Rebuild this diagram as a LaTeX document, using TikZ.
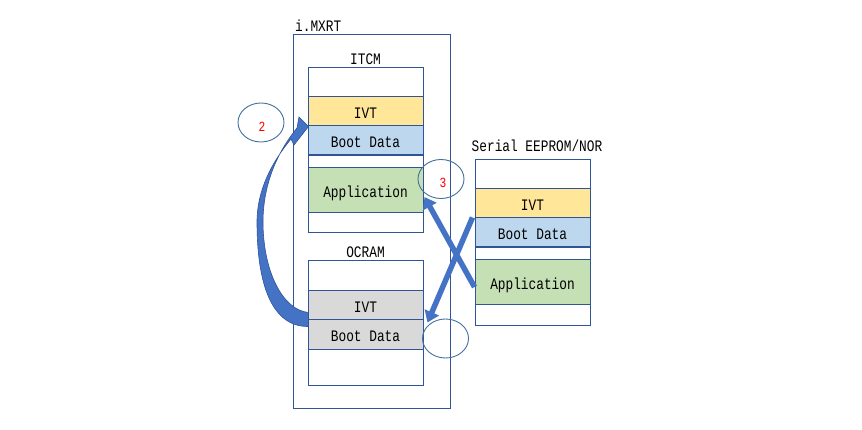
\documentclass[tikz,border=0pt]{standalone}
\usepackage{fontspec}
\setmainfont{Liberation Mono}[FakeStretch=0.8]
\usetikzlibrary{arrows.meta,calc,shapes.geometric}
\definecolor{frame}{HTML}{2F5597}
\definecolor{ivtyellow}{HTML}{FFE699}
\definecolor{bootblue}{HTML}{BDD7EE}
\definecolor{appgreen}{HTML}{C5E0B4}
\definecolor{ramgrey}{HTML}{D9D9D9}
\definecolor{arrowblue}{HTML}{4472C4}
\definecolor{ringblue}{HTML}{41719C}
\tikzset{
  cell/.style={draw=frame, line width=1pt, minimum width=115pt, inner sep=0pt,
    text height=14pt, text depth=0pt,
    font=\fontsize{16}{18}\selectfont},
  caption/.style={inner sep=0pt, font=\fontsize{16}{18}\selectfont},
  ring/.style={ellipse, draw=ringblue, line width=0.9pt, minimum width=46pt,
    minimum height=39pt, inner sep=0pt},
  stepno/.style={inner sep=0pt, text=red, font=\fontsize{14}{14}\selectfont},
  blockarrow/.style={draw=arrowblue, line width=5.5pt,
    -{Triangle[length=11pt,width=15pt]}},
}
\begin{document}
\begin{tikzpicture}[x=1pt,y=-1pt]
\useasboundingbox (0,0) rectangle (862,430);
\fill[white] (0,0) rectangle (862,430);

% i.MXRT chip outline
\node[draw=frame, line width=1pt, minimum width=157pt, minimum height=373pt,
  inner sep=0pt] (chip) at (371.5,221.5) {};
\node[caption, anchor=base west] (chiplabel) at (295,32) {i.MXRT};

% ITCM
\node[caption, anchor=base] (itcmlabel) at (365.5,65) {ITCM};
\node[cell, minimum height=29pt] (itop) at (365.5,82.5) {};
\node[cell, minimum height=29pt, fill=ivtyellow] (iivt) at (365.5,111.5) {IVT};
\node[cell, minimum height=30pt, fill=bootblue] (iboot) at (365.5,141) {Boot Data};
\node[cell, minimum height=12pt] (igap) at (365.5,162) {};
\node[cell, minimum height=45pt, fill=appgreen] (iapp) at (365.5,190.5) {Application};
\node[cell, minimum height=20pt] (ibot) at (365.5,223) {};

% OCRAM
\node[caption, anchor=base] (ocramlabel) at (365.5,258) {OCRAM};
\node[cell, minimum height=30pt] (otop) at (365.5,276) {};
\node[cell, minimum height=29pt, fill=ramgrey] (oivt) at (365.5,305.5) {IVT};
\node[cell, minimum height=29pt, fill=ramgrey] (oboot) at (365.5,334.5) {Boot Data};
\node[cell, minimum height=36pt] (obot) at (365.5,367) {};

% Serial EEPROM/NOR
\node[caption, anchor=base] (eeplabel) at (537,152) {Serial EEPROM/NOR};
\node[cell, minimum height=29pt] (etop) at (532.5,174.5) {};
\node[cell, minimum height=29pt, fill=ivtyellow] (eivt) at (532.5,203.5) {IVT};
\node[cell, minimum height=30pt, fill=bootblue] (eboot) at (532.5,233) {Boot Data};
\node[cell, minimum height=12pt] (egap) at (532.5,254) {};
\node[cell, minimum height=45pt, fill=appgreen] (eapp) at (532.5,282.5) {Application};
\node[cell, minimum height=20pt] (ebot) at (532.5,315) {};

% step markers
\node[ring] (ring2) at (261,122.5) {};
\node[stepno] (step2) at (262,127) {2};
\node[ring] (ring3) at (441,179) {};
\node[stepno] (step3) at (443,183) {3};
\node[ring] (ringb) at (445.5,338.5) {};

% copy paths from flash
\draw[blockarrow] ($(eapp.west)+(0,4.5)$) -- ($(iapp.east)+(1,6.5)$);
\draw[blockarrow] ($(eboot.north west)+(-2,0)$) -- ($(oboot.north east)+(4,3)$);

% OCRAM boot data handed back to ITCM
\coordinate (tailtop) at (oboot.north west);
\coordinate (headtip) at (iboot.north west);
\fill[arrowblue, draw=frame, line width=0.6pt]
  ($(tailtop)+(1,7)$) -- ($(tailtop)+(1,-7)$)
  .. controls (282,310) and (263,270) .. (263,222)
  .. controls (263,182) and (279,150) .. (297,128)
  -- (299,117) -- ($(headtip)+(1,1)$) -- (294,145) -- (291,139)
  .. controls (272,162) and (257,190) .. (257,222)
  .. controls (257,285) and (272,327) .. ($(tailtop)+(1,7)$) -- cycle;
\end{tikzpicture}
\end{document}
